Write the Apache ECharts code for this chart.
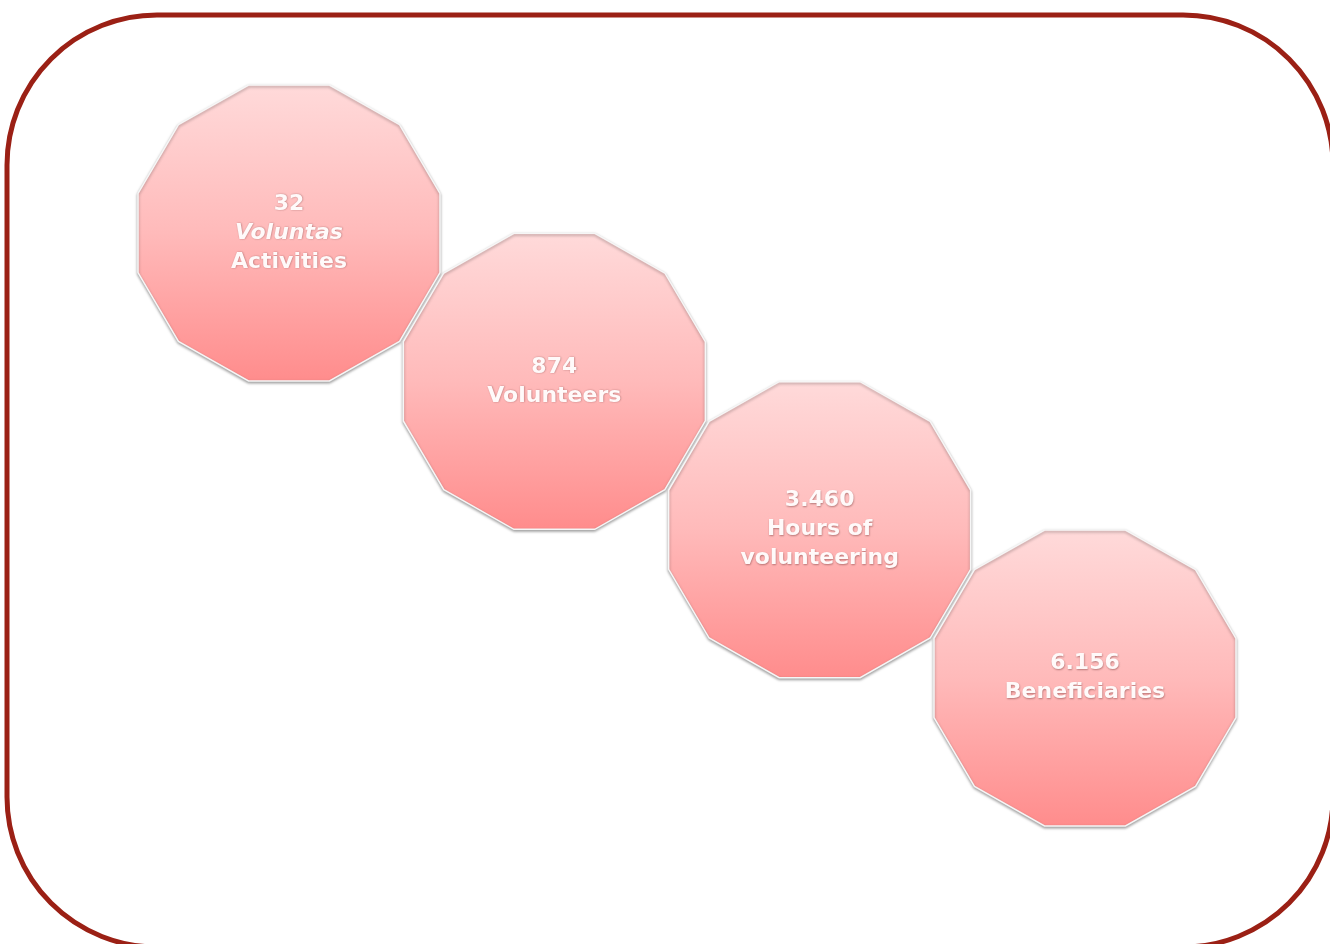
<!DOCTYPE html>
<html>
<head>
<meta charset="utf-8">
<script src="https://cdn.jsdelivr.net/npm/echarts@6/dist/echarts.min.js"></script>
<style>
html,body{margin:0;padding:0;background:#fff;}
#main{width:1330px;height:944px;}
</style>
</head>
<body>
<div id="main"></div>
<script>
// Data
var values = [32, 874, 3460, 6156];
var labelLines = [['_Voluntas', 'Activities'], ['Volunteers'], ['Hours of', 'volunteering'], ['Beneficiaries']];
var stepX = [0, 1, 2, 3];
var stepY = [0, 1, 2, 3];

function fmt(v) {
  return String(v).replace(/\B(?=(\d{3})+(?!\d))/g, '.');
}

// dodecagon path with flat top / sides
function dodecagon() {
  var pts = [];
  for (var k = 0; k < 12; k++) {
    var a = (15 + 30 * k) * Math.PI / 180;
    pts.push((100 * Math.cos(a)).toFixed(3) + ' ' + (100 * Math.sin(a)).toFixed(3));
  }
  return 'path://M' + pts.join(' L') + ' Z';
}

var chart = echarts.init(document.getElementById('main'));
var data = values.map(function (v, i) {
  return { value: [stepX[i], stepY[i]], raw: v, lines: labelLines[i] };
});

var txt = {
  fontFamily: 'DejaVu Sans', fontWeight: 'bold', fontSize: 22, color: '#FFFAFA',
  lineHeight: 29, align: 'center',
  textShadowColor: 'rgba(110,50,50,0.5)', textShadowBlur: 2, textShadowOffsetX: 0.5, textShadowOffsetY: 0.5
};

chart.setOption({
  animation: false,
  graphic: [{
    type: 'rect',
    shape: { x: 7, y: 15, width: 1326, height: 932, r: 150 },
    style: { fill: 'none', stroke: '#9B2015', lineWidth: 5 },
    z: 100
  }],
  grid: { left: 289, top: 233, width: 796, height: 445 },
  xAxis: { type: 'value', min: 0, max: 3, show: false },
  yAxis: { type: 'value', min: 0, max: 3, inverse: true, show: false },
  series: [{
    type: 'scatter',
    clip: false,
    symbol: dodecagon(),
    symbolSize: [302, 296],
    symbolKeepAspect: false,
    data: data,
    itemStyle: {
      color: new echarts.graphic.LinearGradient(0, 0, 0, 1, [
        { offset: 0, color: '#FFDADA' },
        { offset: 0.5, color: '#FFBABA' },
        { offset: 1, color: '#FF8C8C' }
      ]),
      opacity: 1,
      borderColor: '#F6F6F6',
      borderWidth: 1.5,
      shadowColor: 'rgba(0,0,0,0.35)',
      shadowBlur: 3,
      shadowOffsetY: 1.5
    },
    label: {
      show: true,
      position: 'inside',
      align: 'center',
      verticalAlign: 'middle',
      formatter: function (p) {
        var out = ['{n|' + fmt(p.data.raw) + '}'];
        p.data.lines.forEach(function (l) {
          if (l.charAt(0) === '_') out.push('{i|' + l.slice(1) + '}');
          else out.push('{n|' + l + '}');
        });
        return out.join('\n');
      },
      rich: {
        n: txt,
        i: Object.assign({}, txt, { fontStyle: 'italic' })
      }
    },
    emphasis: { disabled: true }
  }]
});
</script>
</body>
</html>
